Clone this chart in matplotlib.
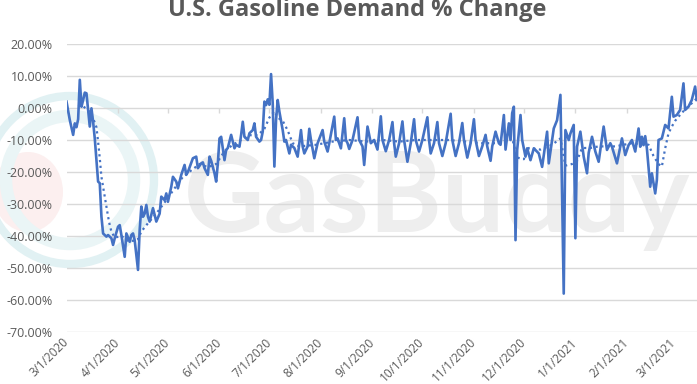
import matplotlib
matplotlib.use('Agg')
import matplotlib.pyplot as plt
import pandas as pd
from matplotlib.patches import Circle, Ellipse

# ---------------- data ----------------
start_date = '2020-03-01'
title = 'U.S. Gasoline Demand % Change'

demand_day = [0, 2, 4, 5, 6, 7, 8, 9, 10, 11, 12, 13, 14, 15, 16, 17, 19, 20, 21, 22,
              24, 25, 27, 28, 29, 31, 32, 33, 35, 36, 38, 39, 40, 41, 43, 44, 45, 46, 47, 48,
              49, 50, 52, 53, 54, 56, 57, 59, 60, 61, 63, 64, 66, 67, 69, 71, 72, 73, 76, 78,
              79, 81, 82, 83, 85, 86, 87, 89, 90, 91, 92, 93, 95, 96, 97, 99, 100, 101, 102, 104,
              105, 106, 107, 109, 110, 112, 113, 114, 116, 117, 118, 119, 120, 121, 122, 123, 124, 125, 126, 127,
              128, 129, 130, 131, 132, 134, 135, 137, 139, 141, 142, 143, 145, 146, 147, 149, 151, 154, 155, 157,
              158, 161, 162, 163, 165, 167, 168, 169, 170, 172, 175, 176, 178, 179, 181, 183, 185, 187, 189, 190,
              192, 194, 196, 197, 198, 200, 202, 203, 205, 207, 209, 210, 212, 214, 217, 218, 219, 221, 223, 224,
              226, 228, 231, 232, 234, 236, 238, 239, 241, 243, 245, 246, 248, 250, 252, 253, 255, 256, 258, 260,
              261, 263, 264, 265, 266, 267, 268, 269, 270, 271, 273, 274, 276, 277, 279, 281, 284, 286, 289, 290,
              293, 295, 297, 299, 300, 302, 303, 305, 306, 307, 309, 311, 313, 314, 316, 318, 320, 323, 325, 327,
              328, 331, 334, 336, 338, 340, 342, 344, 345, 346, 347, 348, 349, 351, 352, 354, 355, 356, 358, 360,
              362, 364, 365, 367, 369, 371, 372, 374, 376, 378, 379]
demand_pct = [2.0, -3.8, -8.4, -4.8, -6.0, -3.5, 8.8, 0.4, 2.5, 4.8, 4.6, -0.6, -5.8, -0.1, -4.3, -9.5, -23.0, -23.5, -33.9, -39.2,
              -40.2, -39.7, -40.7, -42.8, -40.7, -37.1, -36.6, -39.7, -46.5, -39.2, -41.8, -39.7, -39.2, -41.3, -50.6, -38.1, -30.8, -34.0, -33.0, -30.3,
              -34.0, -35.5, -31.3, -33.4, -35.5, -33.0, -27.7, -28.8, -26.7, -29.3, -24.6, -21.5, -23.0, -25.1, -20.9, -17.8, -20.9, -20.0, -15.7, -15.2,
              -18.8, -17.3, -17.0, -18.8, -20.9, -15.2, -16.5, -20.4, -23.0, -17.3, -9.5, -9.0, -16.3, -13.1, -12.5, -8.4, -10.5, -12.6, -11.5, -12.1,
              -8.4, -4.3, -9.0, -10.0, -7.9, -6.9, -4.8, -9.0, -10.5, -10.0, -7.4, 2.0, 0.9, 2.7, 1.0, 10.6, 1.5, -18.3, -3.8, 2.5,
              -1.1, -4.0, -6.9, -10.5, -10.0, -14.2, -11.5, -12.5, -15.2, -6.9, -12.0, -14.2, -12.0, -6.5, -10.0, -15.7, -11.0, -6.9, -10.5, -13.6,
              -11.0, -2.7, -10.0, -9.5, -12.6, -3.2, -10.0, -11.0, -12.8, -10.0, -2.9, -10.0, -12.0, -17.8, -5.8, -11.0, -10.0, -13.0, -2.6, -10.0,
              -13.5, -10.0, -4.4, -11.0, -15.2, -11.0, -4.2, -10.0, -16.8, -11.0, -3.5, -10.0, -13.6, -10.0, -2.9, -10.0, -14.2, -11.0, -4.4, -11.0,
              -15.0, -11.0, -1.8, -10.0, -15.0, -11.0, -4.7, -10.0, -15.5, -11.0, -3.5, -10.0, -15.0, -12.0, -8.4, -12.0, -16.5, -12.0, -7.4, -11.0,
              -11.5, -2.2, -13.0, -9.0, -4.8, -10.0, -1.6, 0.4, -41.3, -13.1, -2.2, -10.0, -15.2, -12.6, -16.3, -12.6, -14.2, -18.4, -7.4, -17.3,
              -6.4, -3.8, 4.1, -58.0, -6.9, -10.0, -8.0, -5.3, -40.7, -12.1, -7.4, -15.2, -20.4, -14.0, -9.0, -13.6, -16.8, -5.8, -13.1, -11.0,
              -12.1, -17.3, -9.5, -14.7, -11.6, -10.0, -13.6, -6.4, -12.1, -9.0, -11.6, -8.8, -12.6, -24.6, -20.4, -26.7, -22.5, -10.0, -9.5, -5.3,
              -6.4, 3.5, -2.7, -2.2, -0.6, 7.7, -0.6, 0.4, 2.5, 6.7, 2.5]

trend_day = [7, 10, 13, 16, 18, 19, 20, 21, 22, 23, 24, 25, 26, 27, 29, 33, 37, 41, 43, 45,
             49, 54, 60, 65, 70, 75, 80, 85, 90, 95, 100, 105, 110, 115, 119, 122, 125, 127, 130, 133,
             136, 140, 150, 160, 170, 180, 190, 200, 210, 220, 230, 240, 250, 260, 268, 271, 275, 278, 285, 292,
             297, 300, 304, 307, 310, 315, 320, 330, 340, 350, 353, 356, 358, 360, 362, 364, 366, 370, 375, 379]
trend_pct = [1.0, 0.5, -0.6, -3.2, -6.0, -10.5, -15.7, -21.5, -24.6, -27.7, -30.8, -33.9, -36.6, -38.6, -40.5, -40.0, -41.5, -41.5, -41.0, -38.6,
             -36.0, -33.0, -28.8, -25.1, -21.5, -19.5, -17.5, -18.5, -17.5, -13.5, -11.5, -10.0, -8.5, -8.5, -6.5, -3.0, -1.0, -3.0, -4.0, -7.0,
             -11.0, -12.0, -11.5, -10.5, -10.0, -10.5, -10.0, -10.5, -10.0, -10.0, -10.0, -10.5, -11.0, -11.0, -9.5, -15.5, -16.0, -12.5, -13.0, -11.5,
             -9.5, -18.0, -17.5, -16.5, -12.5, -12.5, -12.0, -12.0, -11.0, -11.5, -15.0, -17.5, -18.3, -12.6, -7.9, -5.8, -4.0, -1.5, 1.0, 3.0]

y_ticks = [20, 10, 0, -10, -20, -30, -40, -50, -60, -70]
y_tick_labels = ['20.00%', '10.00%', '0.00%', '-10.00%', '-20.00%', '-30.00%',
                 '-40.00%', '-50.00%', '-60.00%', '-70.00%']
x_tick_labels = ['3/1/2020', '4/1/2020', '5/1/2020', '6/1/2020', '7/1/2020', '8/1/2020',
                 '9/1/2020', '10/1/2020', '11/1/2020', '12/1/2020', '1/1/2021', '2/1/2021', '3/1/2021']

# ---------------- figure ----------------
W, H = 697, 384
fig = plt.figure(figsize=(W / 100, H / 100), dpi=100)
fig.patch.set_facecolor('white')

# watermark layer (pixel coordinates)
bg = fig.add_axes([0, 0, 1, 1])
bg.set_xlim(0, W)
bg.set_ylim(H, 0)
bg.axis('off')
bg.add_patch(Ellipse((28, 192), 70, 80, fc='#fcefef', ec='none'))
bg.add_patch(Circle((70, 180), 84, fill=False, ec='#e1f1f3', lw=6))
bg.add_patch(Circle((70, 180), 64, fill=False, ec='#eaf5f6', lw=9))
bg.text(184, 232, 'GasBuddy', fontsize=80, fontweight='bold', family='Lato',
        color='#eeeeee', ha='left', va='baseline')

base = pd.Timestamp(start_date)
d_dates = base + pd.to_timedelta(demand_day, unit='D')
t_dates = base + pd.to_timedelta(trend_day, unit='D')
tick_dates = pd.to_datetime(x_tick_labels, format='%m/%d/%Y')

left_px, top_px, bot_px = 66.5, 44, 332
ax = fig.add_axes([left_px / W, 1 - bot_px / H, (W - left_px) / W, (bot_px - top_px) / H])
ax.patch.set_alpha(0)
ax.set_ylim(-70, 20)
ax.set_xlim(base, base + pd.Timedelta(days=(W - left_px) / 1.663))

for s in ax.spines.values():
    s.set_visible(False)

ax.set_yticks(y_ticks)
ax.set_yticklabels(y_tick_labels, family='Open Sans', fontsize=9, color='#595959')
ax.grid(axis='y', color='#d9d9d9', lw=1)
ax.set_axisbelow(True)
ax.tick_params(axis='y', length=0, pad=10)

ax.set_xticks(tick_dates)
ax.set_xticklabels(x_tick_labels, family='Open Sans', fontsize=8.5, color='#595959',
                   rotation=45, ha='right', va='center', rotation_mode='anchor')
ax.tick_params(axis='x', length=0, pad=6)

# small month marks on the zero line
ax.vlines(tick_dates, -1.6, 0, color='#d9d9d9', lw=1, zorder=1)

ax.plot(t_dates, trend_pct, color='#4472C4', lw=1.6, linestyle=(0, (1, 1.6)), zorder=2)
ax.plot(d_dates, demand_pct, color='#4472C4', lw=1.9, solid_joinstyle='round', zorder=3)

fig.text(357 / W, 1 - 16 / H, title, ha='center', va='baseline', family='Open Sans',
         fontweight='bold', fontsize=17, color='#595959')

fig.savefig('out.png', dpi=100)
